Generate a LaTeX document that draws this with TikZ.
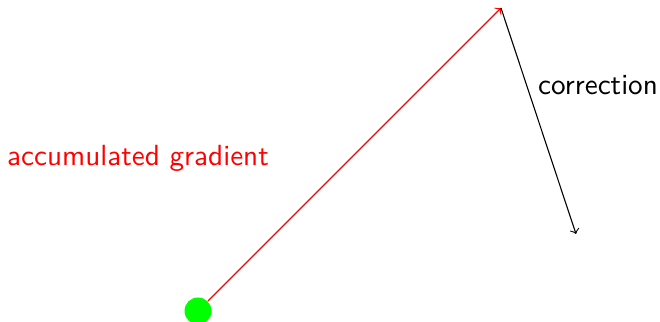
\documentclass[tikz,border=0pt]{standalone}

\begin{document}
\begin{tikzpicture}[x=0.0129cm, y=0.0129cm, font=\sffamily\fontsize{10.7}{13}\selectfont]
  \tikzset{dot/.style={circle, fill=green, inner sep=0pt, minimum size=27*0.0129cm},
           vec/.style={->}}
  \useasboundingbox (0,0) rectangle (660,322);
  % ---- start point and the two steps ----
  \node[dot] (start) at (198,11) {};
  \coordinate (peak) at (501,314);
  \coordinate (fix) at (576,88);
  \draw[vec, red] (start) -- (peak);
  \draw[vec] (peak) -- (fix);
  % ---- labels ----
  \node[red] (gradlbl) at (138,164) {accumulated gradient};
  \node (corrlbl) at (598,237) {correction};
\end{tikzpicture}
\end{document}
